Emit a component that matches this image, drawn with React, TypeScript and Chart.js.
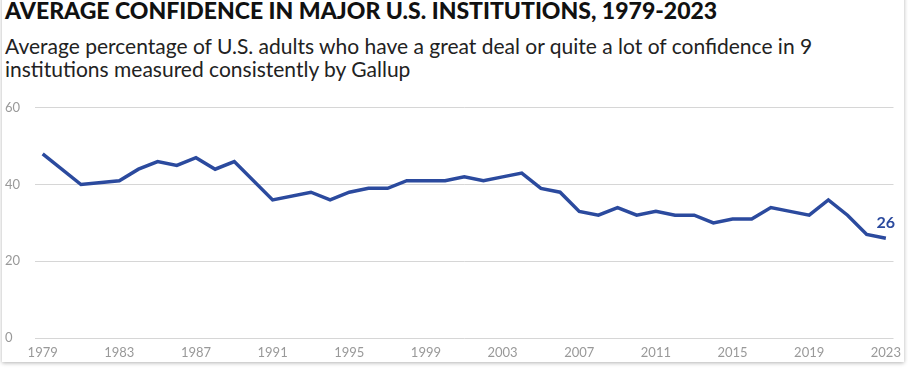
import React, { useEffect, useRef } from "react";
import { Chart, registerables } from "chart.js";

Chart.register(...registerables);

const years = [1979, 1981, 1983, 1984, 1985, 1986, 1987, 1988, 1989, 1991, 1993, 1994, 1995, 1996, 1997, 1998, 1999, 2000, 2001, 2002, 2003, 2004, 2005, 2006, 2007, 2008, 2009, 2010, 2011, 2012, 2013, 2014, 2015, 2016, 2017, 2018, 2019, 2020, 2021, 2022, 2023];
const confidence = [48, 40, 41, 44, 46, 45, 47, 44, 46, 36, 38, 36, 38, 39, 39, 41, 41, 41, 42, 41, 42, 43, 39, 38, 33, 32, 34, 32, 33, 32, 32, 30, 31, 31, 34, 33, 32, 36, 32, 27, 26];
const xTicks = [1979, 1983, 1987, 1991, 1995, 1999, 2003, 2007, 2011, 2015, 2019, 2023];
const yTicks = [0, 20, 40, 60];

const TITLE = "AVERAGE CONFIDENCE IN MAJOR U.S. INSTITUTIONS, 1979-2023";
const SUBTITLE_LINE1 = "Average percentage of U.S. adults who have a great deal or quite a lot of confidence in 9";
const SUBTITLE_LINE2 = "institutions measured consistently by Gallup";

const LINE_COLOR = "#2B4A9E";

const endLabel = {
  id: "endLabel",
  afterDatasetsDraw(chart: any) {
    const meta = chart.getDatasetMeta(0);
    const pts = meta.data;
    const last = pts[pts.length - 1];
    const val = confidence[confidence.length - 1];
    const ctx = chart.ctx;
    ctx.save();
    ctx.font = "bold 16px Lato";
    ctx.fillStyle = LINE_COLOR;
    ctx.textAlign = "center";
    ctx.textBaseline = "middle";
    ctx.fillText(String(val), last.x, last.y - 15);
    ctx.restore();
  },
};

export default function App() {
  const ref = useRef<HTMLCanvasElement>(null);
  useEffect(() => {
    if (!ref.current) return;
    const chart = new Chart(ref.current, {
      type: "line",
      data: {
        datasets: [
          {
            data: years.map((y, i) => ({ x: y, y: confidence[i] })),
            borderColor: LINE_COLOR,
            borderWidth: 3.5,
            pointRadius: 0,
            tension: 0,
            fill: false,
          },
        ],
      },
      options: {
        animation: false,
        responsive: false,
        maintainAspectRatio: false,
        layout: { padding: { top: 15, left: 2, right: 8, bottom: 0 } },
        plugins: { legend: { display: false }, tooltip: { enabled: false } },
        scales: {
          x: {
            type: "linear",
            min: 1978.6,
            max: 2023.4,
            grid: { display: false, drawTicks: false },
            border: { display: false },
            afterBuildTicks: (s: any) => {
              s.ticks = xTicks.map((v) => ({ value: v }));
            },
            afterFit: (s: any) => {
              s.height = 32;
            },
            ticks: {
              color: "#999999",
              font: { family: "Lato", size: 13 },
              padding: 7,
              maxRotation: 0,
              autoSkip: false,
              callback: (v: any) => String(v),
            },
          },
          y: {
            min: 0,
            max: 60,
            afterBuildTicks: (s: any) => {
              s.ticks = yTicks.map((v) => ({ value: v }));
            },
            afterFit: (s: any) => {
              s.width = 30;
            },
            grid: { color: "#d6d6d6", lineWidth: 1, drawTicks: false },
            border: { display: false },
            ticks: {
              color: "#999999",
              font: { family: "Lato", size: 13 },
              crossAlign: "far",
              padding: 10,
            },
          },
        },
      },
      plugins: [endLabel],
    });
    return () => chart.destroy();
  }, []);

  return (
    <div style={{ position: "fixed", left: 0, top: 0, width: 908, height: 373, background: "#fff", overflow: "hidden" }}>
      <div
        style={{
          position: "absolute",
          left: 2,
          top: -10,
          width: 902,
          height: 372,
          boxShadow: "0 1px 4px rgba(0,0,0,0.3)",
          background: "#fff",
        }}
      />
      <div
        style={{
          position: "absolute",
          left: 5,
          top: -4,
          fontFamily: "Lato",
          fontWeight: 900,
          fontSize: 23,
          lineHeight: "28px",
          color: "#111",
          whiteSpace: "nowrap",
        }}
      >
        {TITLE}
      </div>
      <div
        style={{
          position: "absolute",
          left: 5,
          top: 34,
          fontFamily: "Lato",
          fontSize: 21,
          lineHeight: "23px",
          color: "#222",
          whiteSpace: "nowrap",
        }}
      >
        <div>{SUBTITLE_LINE1}</div>
        <div>{SUBTITLE_LINE2}</div>
      </div>
      <canvas
        ref={ref}
        width={905}
        height={280}
        style={{ position: "absolute", left: 3, top: 90, width: 905, height: 280 }}
      />
    </div>
  );
}
